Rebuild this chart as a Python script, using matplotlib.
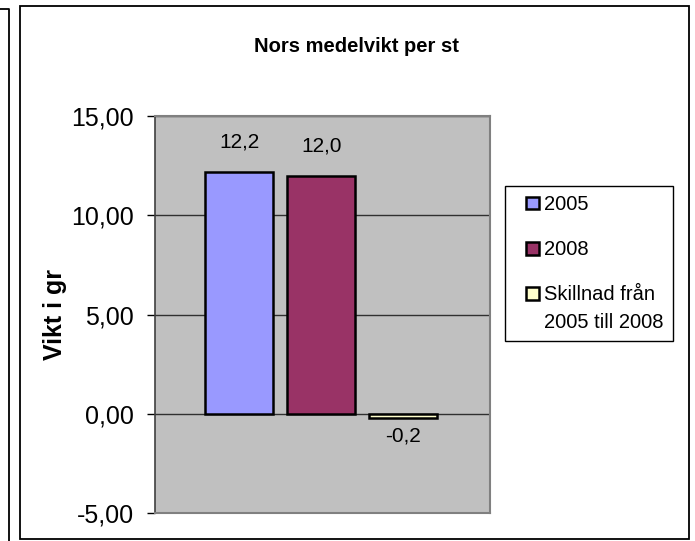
#!/usr/bin/env python3

import numpy as np
import matplotlib
matplotlib.use('Agg')

import matplotlib.pyplot as plt
from matplotlib.patches import Rectangle
from matplotlib.lines import Line2D
from matplotlib.ticker import FuncFormatter
from matplotlib.legend_handler import HandlerPatch

series = ["2005", "2008", "Skillnad från\n2005 till 2008"]
values = [12.2, 12.0, -0.2]
labels = ["12,2", "12,0", "-0,2"]
colors = ["#9999FF", "#993366", "#FFFFCC"]
yticks = [-5, 0, 5, 10, 15]

LINESPACING = 1.6
FS_LEG = 14.5


def square(legend, orig_handle, xdescent, ydescent, width, height, fontsize):
    s = 9.2
    y0 = -ydescent + (height - s) / 2
    if "\n" in orig_handle.get_label():
        # put the box next to the first line of a two-line label
        y0 += 0.5 * LINESPACING * 1.0 * fontsize
    return Rectangle((-xdescent + width - s, y0), s, s)


def main():
    plt.rcParams['font.family'] = ['Liberation Sans', 'DejaVu Sans']
    fig = plt.figure(figsize=(6.95, 5.41), dpi=100)
    W, H = 695, 541

    # outer frames
    fig.add_artist(Rectangle((20 / W, 2 / H), 669 / W, 533 / H, transform=fig.transFigure,
                             fill=False, edgecolor="black", linewidth=1.3))
    fig.add_artist(Line2D([0, 9 / W, 9 / W], [1 - 9 / H, 1 - 9 / H, 0],
                          transform=fig.transFigure, color="black", linewidth=1.3))

    ax = fig.add_axes([155 / W, 28 / H, 335 / W, 397 / H])
    ax.set_facecolor("#C0C0C0")
    ax.set_axisbelow(True)
    ax.yaxis.grid(True, color="#303030", linewidth=1)

    x = np.arange(len(values))
    bars = ax.bar(x, values, 0.83, color=colors, edgecolor="black", linewidth=1.8,
                  label=series, zorder=3)
    for b, lab, v in zip(bars, labels, values):
        off = 21 if v >= 0 else -13
        ax.annotate(lab, (b.get_x() + b.get_width() / 2, v), xytext=(0, off),
                    textcoords="offset points", ha="center", va="center", fontsize=15)

    ax.set_xlim(-1.03, 3.06)
    ax.set_ylim(-5, 15)
    ax.set_yticks(yticks)
    ax.yaxis.set_major_formatter(FuncFormatter(lambda v, p: f"{v:.2f}".replace(".", ",")))
    ax.tick_params(axis="y", direction="out", length=6, width=1, labelsize=18, pad=9)
    ax.set_xticks([])
    for s in ["top", "right", "bottom"]:
        ax.spines[s].set_color("#808080")
        ax.spines[s].set_linewidth(1.5)
    ax.spines["left"].set_color("#404040")
    ax.spines["left"].set_linewidth(1.2)

    ax.set_ylabel("Vikt i gr", fontsize=18, fontweight="bold")
    ax.yaxis.set_label_coords(-0.262, 0.5)

    fig.text(356 / W, 1 - 46 / H, "Nors medelvikt per st", ha="center", va="center",
             fontsize=14.5, fontweight="bold")

    leg = fig.legend(loc="upper left", bbox_to_anchor=(505 / W, 1 - 186 / H),
                     bbox_transform=fig.transFigure, fontsize=FS_LEG, fancybox=False,
                     edgecolor="black", framealpha=1, handlelength=1.25, handleheight=0.65,
                     handletextpad=0.25, labelspacing=1.3, borderpad=0.45,
                     borderaxespad=0,
                     handler_map={Rectangle: HandlerPatch(patch_func=square)})
    leg.get_frame().set_linewidth(1)
    for t in leg.get_texts():
        t.set_linespacing(LINESPACING)
        t.set_multialignment("left")

    plt.savefig("out.png", dpi=100)


if __name__ == "__main__":
    main()
